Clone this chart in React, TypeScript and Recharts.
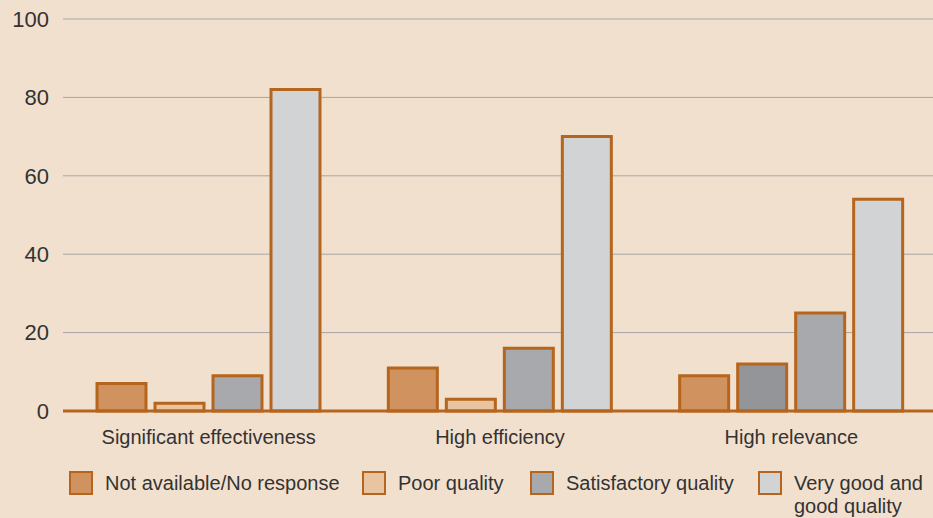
import React from "react";
import { BarChart, Bar, XAxis, YAxis, CartesianGrid, Legend, Cell } from "recharts";

const categories = ["Significant effectiveness", "High efficiency", "High relevance"];
const notAvailable = [7, 11, 9];
const poorQuality = [2, 3, 12];
const satisfactory = [9, 16, 25];
const veryGood = [82, 70, 54];
const yTicks = [0, 20, 40, 60, 80, 100];

const seriesNames = ["Not available/No response", "Poor quality", "Satisfactory quality", "Very good and good quality"];
const seriesKeys = ["notAvailable", "poorQuality", "satisfactory", "veryGood"];
const seriesColors = ["#D09360", "#E8C4A0", "#A7A9AC", "#D1D3D4"];
const poorOverride = ["#E8C4A0", "#E8C4A0", "#939598"];

const STROKE = "#B5651D";
const BG = "#F2E0CE";
const FONT = "'Liberation Sans', Arial, sans-serif";
const LEGEND_LEFT = [69, 362, 530, 758];

const data = categories.map((c, i) => ({
  name: c,
  notAvailable: notAvailable[i],
  poorQuality: poorQuality[i],
  satisfactory: satisfactory[i],
  veryGood: veryGood[i],
}));

const LegendContent = () => (
  <div style={{ position: "relative", width: 933, height: 47, fontFamily: FONT, fontSize: 20, color: "#333" }}>
    {seriesNames.map((n, i) => (
      <div key={n} style={{ position: "absolute", left: LEGEND_LEFT[i], top: 0, display: "flex", alignItems: "flex-start" }}>
        <div style={{ width: 20, height: 20, background: seriesColors[i], border: `2.5px solid ${STROKE}`, marginRight: 12, flexShrink: 0 }} />
        <div style={{ lineHeight: "23px", marginTop: 1, maxWidth: i === 3 ? 150 : undefined, whiteSpace: i === 3 ? "normal" : "nowrap" }}>{n}</div>
      </div>
    ))}
  </div>
);

export default function App() {
  return (
    <div style={{ position: "absolute", left: 0, top: 0, width: 933, height: 518, background: BG, overflow: "hidden" }}>
      <BarChart
        width={933}
        height={518}
        data={data}
        margin={{ top: 19, right: -4, left: 0, bottom: 0 }}
        barSize={49}
        barGap={9}
      >
        <CartesianGrid vertical={false} stroke="#A5A5A5" strokeWidth={1} horizontalValues={[20, 40, 60, 80, 100]} />
        <YAxis
          domain={[0, 100]}
          ticks={yTicks}
          width={63}
          axisLine={false}
          tickLine={false}
          tickSize={0}
          tickMargin={14}
          tick={{ fill: "#333", fontSize: 22, fontFamily: FONT }}
          interval={0}
        />
        <XAxis
          dataKey="name"
          height={40}
          axisLine={{ stroke: STROKE, strokeWidth: 3 }}
          tickLine={false}
          tickSize={0}
          tickMargin={19}
          tick={{ fill: "#333", fontSize: 20, fontFamily: FONT }}
          interval={0}
        />
        <Legend
          verticalAlign="bottom"
          height={67}
          content={LegendContent}
          wrapperStyle={{ left: 0, width: 933, bottom: 0, height: 47, paddingTop: 20, boxSizing: "content-box" }}
        />
        {seriesKeys.map((k, i) => (
          <Bar key={k} dataKey={k} name={seriesNames[i]} fill={seriesColors[i]} stroke={STROKE} strokeWidth={3} isAnimationActive={false}>
            {k === "poorQuality" ? data.map((d, j) => <Cell key={j} fill={poorOverride[j]} />) : null}
          </Bar>
        ))}
      </BarChart>
    </div>
  );
}
